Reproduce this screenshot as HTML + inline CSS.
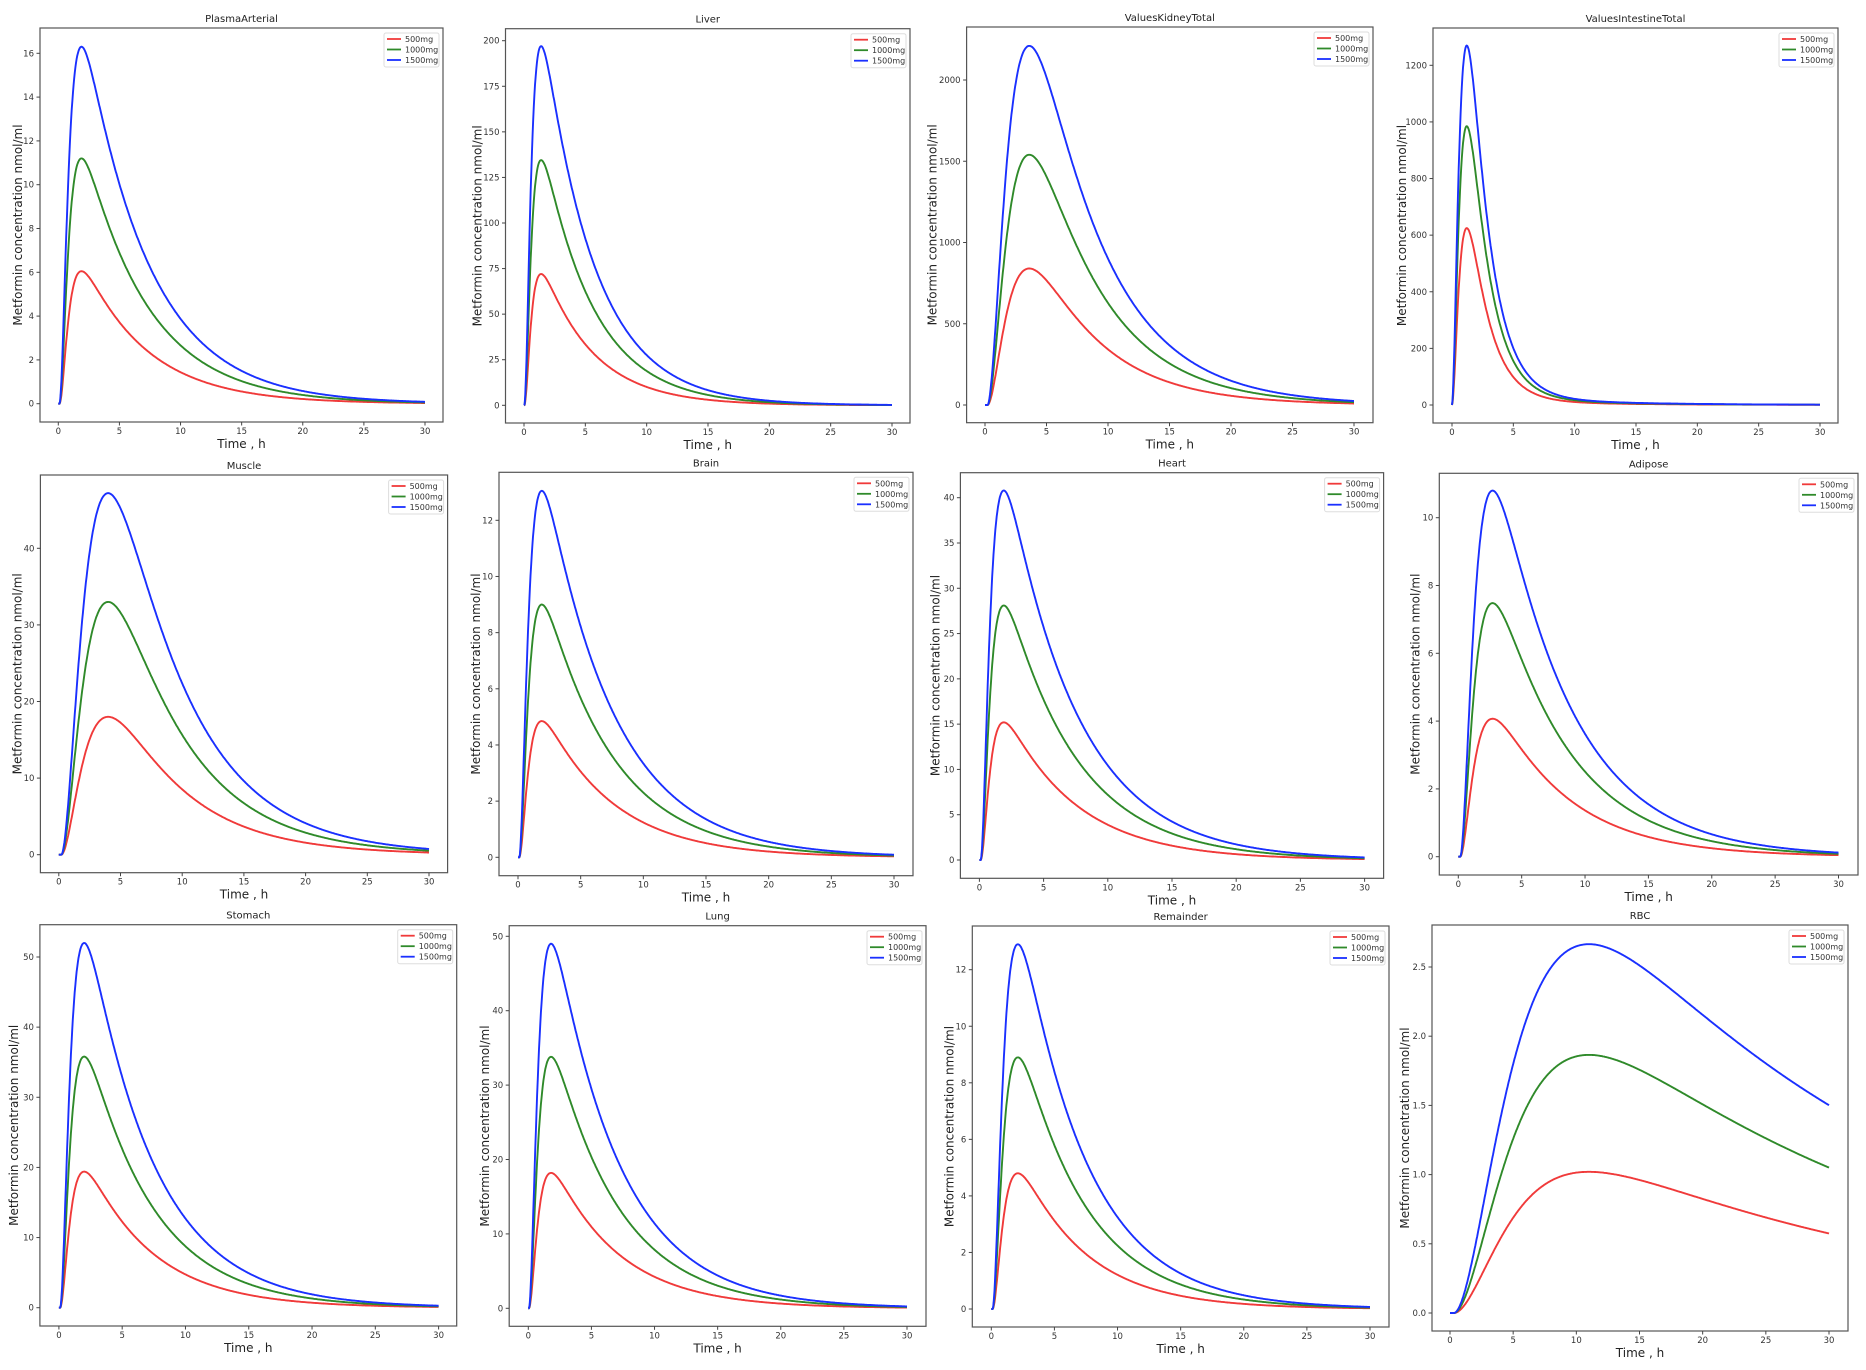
<!DOCTYPE html>
<html><head><meta charset="utf-8"><style>
html,body{margin:0;padding:0;background:#fff;}
svg{display:block;font-family:"DejaVu Sans","Liberation Sans",sans-serif;}
</style></head><body>
<svg id="s" width="1866" height="1370" xmlns="http://www.w3.org/2000/svg"></svg>
<script>
const P=[
{t:"PlasmaArterial",b:[40,28,443,422],x0:58.3,x30:425,y0:403.7,yv:16,yp:53.3,ticks:[0,2,4,6,8,10,12,14,16],tp:1.9,ke:0.19,lag:0.1,pk:[6.05,11.2,16.3],yl:22},
{t:"Liver",b:[505.5,28.7,910,423],x0:524,x30:892,y0:405.3,yv:200,yp:40.7,ticks:[0,25,50,75,100,125,150,175,200],tp:1.4,ke:0.24,lag:0.03,pk:[72,134.5,197],yl:28},
{t:"ValuesKidneyTotal",b:[966.6,27,1373,422.7],x0:985,x30:1354,y0:405,yv:2000,yp:80,ticks:[0,500,1000,1500,2000],tp:3.6,ke:0.18,lag:0.2,pk:[840,1540,2210],yl:34},
{t:"ValuesIntestineTotal",b:[1433,28,1838,423],x0:1452,x30:1820,y0:405,yv:1200,yp:65.3,ticks:[0,200,400,600,800,1000,1200],tp:1.2,ke:0.6,lag:0,pk:[625,985,1270],yl:31,slow:0.02},
{t:"Muscle",b:[40.4,475,447.6,872.7],x0:58.8,x30:429,y0:854.7,yv:40,yp:548.3,ticks:[0,10,20,30,40],tp:4.0,ke:0.17,lag:0.2,pk:[18,33,47.2],yl:23},
{t:"Brain",b:[499,472.3,913,875.7],x0:518,x30:894,y0:857.3,yv:12,yp:520.3,ticks:[0,2,4,6,8,10,12],tp:1.9,ke:0.18,lag:0.1,pk:[4.85,9.0,13.05],yl:23},
{t:"Heart",b:[960.4,472.7,1383.6,878.3],x0:979.4,x30:1364.6,y0:860,yv:40,yp:497.7,ticks:[0,5,10,15,20,25,30,35,40],tp:1.9,ke:0.18,lag:0.1,pk:[15.2,28.1,40.8],yl:25},
{t:"Adipose",b:[1439.3,473.3,1858,875],x0:1458.3,x30:1838.5,y0:856.7,yv:10,yp:517.7,ticks:[0,2,4,6,8,10],tp:2.7,ke:0.17,lag:0.15,pk:[4.07,7.48,10.8],yl:24},
{t:"Stomach",b:[39.9,924.7,456.7,1326],x0:58.9,x30:438.6,y0:1307.7,yv:50,yp:957,ticks:[0,10,20,30,40,50],tp:2.0,ke:0.19,lag:0.1,pk:[19.4,35.8,52],yl:26},
{t:"Lung",b:[509.2,925.7,926,1326.3],x0:528.3,x30:907,y0:1308.3,yv:50,yp:936.3,ticks:[0,10,20,30,40,50],tp:1.8,ke:0.19,lag:0.05,pk:[18.2,33.8,49],yl:24},
{t:"Remainder",b:[972.3,926,1389,1327],x0:991.3,x30:1370,y0:1309,yv:12,yp:969.7,ticks:[0,2,4,6,8,10,12],tp:2.1,ke:0.19,lag:0.1,pk:[4.8,8.9,12.9],yl:23},
{t:"RBC",b:[1432,925,1848,1331],x0:1450,x30:1829,y0:1313,yv:2.5,yp:967,ticks:[0,0.5,1,1.5,2,2.5],tp:11,ke:0.037,lag:0.3,pk:[1.02,1.865,2.665],yl:27,fmt:1}
];
const C=["#f03a3a","#2f8a2a","#1a30ff"];
const DT=0.005,N=6000;
function sim(ka,ke){const out=new Float64Array(N+1);let a1=1,a2=0,c=0;out[0]=0;
 for(let i=1;i<=N;i++){const d1=-ka*a1,d2=ka*a1-ka*a2,dc=ka*a2-ke*c;
  a1+=d1*DT;a2+=d2*DT;c+=dc*DT;out[i]=c;}
 return out;}
function peakT(arr){let m=0,mi=0;for(let i=0;i<arr.length;i++)if(arr[i]>m){m=arr[i];mi=i;}return mi*DT;}
function kaFor(tp,ke){let lo=0.01,hi=60;for(let i=0;i<40;i++){let m=Math.sqrt(lo*hi);let t=peakT(sim(m,ke));if(t>tp)lo=m;else hi=m;}return Math.sqrt(lo*hi);}
let h="";
for(const p of P){
 const [l,t,r,b]=p.b;
 const X=v=>p.x0+(p.x30-p.x0)*v/30, Y=v=>p.y0-(p.y0-p.yp)*v/p.yv;
 h+=`<rect x="${l}" y="${t}" width="${r-l}" height="${b-t}" fill="#fff" stroke="#555" stroke-width="1.2"/>`;
 h+=`<text x="${(l+r)/2}" y="${t-6}" font-size="10" text-anchor="middle" fill="#222">${p.t}</text>`;
 for(let v=0;v<=30;v+=5){h+=`<line x1="${X(v)}" x2="${X(v)}" y1="${b}" y2="${b+3.5}" stroke="#444"/><text x="${X(v)}" y="${b+12}" font-size="8.5" text-anchor="middle" fill="#333">${v}</text>`;}
 for(const v of p.ticks){const s=p.fmt?v.toFixed(1):v;h+=`<line x1="${l-3.5}" x2="${l}" y1="${Y(v)}" y2="${Y(v)}" stroke="#444"/><text x="${l-6}" y="${Y(v)+3}" font-size="8.5" text-anchor="end" fill="#333">${s}</text>`;}
 h+=`<text x="${(l+r)/2}" y="${b+26}" font-size="12" text-anchor="middle" fill="#222">Time , h</text>`;
 const yc=(t+b)/2,xc=l-p.yl;
 h+=`<text x="${xc}" y="${yc}" font-size="12" text-anchor="middle" fill="#222" transform="rotate(-90 ${xc} ${yc})" dy="4">Metformin concentration nmol/ml</text>`;
 const ka=kaFor(p.tp-p.lag,p.ke);
 const arr=sim(ka,p.ke);
 const f=tt=>{let u=tt-p.lag;if(u<=0)return 0;let i=Math.min(N,Math.round(u/DT));let v=arr[i];if(p.slow)v+=p.slow*(1-Math.exp(-2*u))*Math.exp(-0.12*u);return v;};
 const fp=f(p.tp);
 p.pk.forEach((pk,i)=>{let d="";for(let k=0;k<=600;k++){let tt=k*30/600;d+=(k?"L":"M")+X(tt).toFixed(1)+","+Y(pk*f(tt)/fp).toFixed(1);}
  h+=`<path d="${d}" fill="none" stroke="${C[i]}" stroke-width="1.9" stroke-linejoin="round"/>`;});
 const lx=r-59,ly=t+5;
 h+=`<rect x="${lx}" y="${ly}" width="55" height="34" fill="#fff" stroke="#ddd" rx="2"/>`;
 ["500mg","1000mg","1500mg"].forEach((s,i)=>{const yy=ly+6+i*10.5;h+=`<line x1="${lx+3}" x2="${lx+17}" y1="${yy}" y2="${yy}" stroke="${C[i]}" stroke-width="1.8"/><text x="${lx+21}" y="${yy+3}" font-size="8" fill="#333">${s}</text>`;});
}
document.getElementById("s").innerHTML=h;
</script>
</body></html>
